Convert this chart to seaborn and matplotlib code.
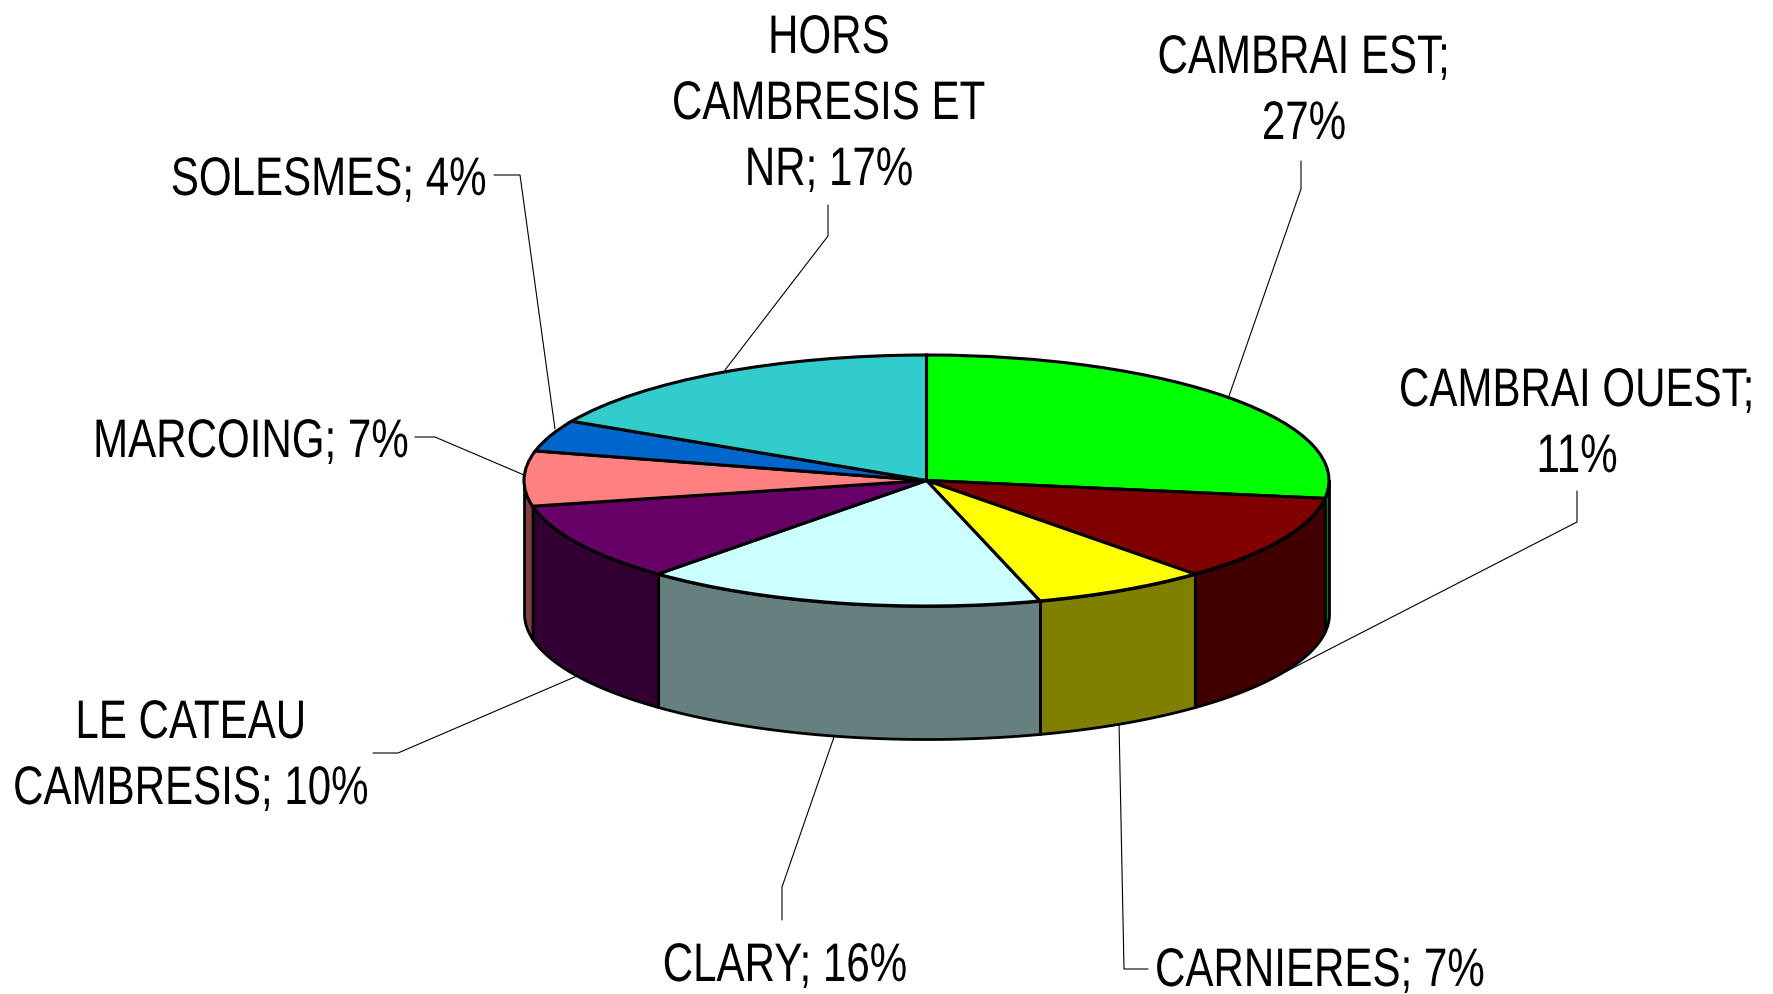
"""
Camembert 3D : répartition par secteur (Cambrésis).
"""

import numpy as np
import matplotlib
matplotlib.use('Agg')
import matplotlib.pyplot as plt
import matplotlib.patheffects as pe
from matplotlib.transforms import Affine2D
import seaborn as sns

# Data
labels = ['CAMBRAI EST;\n27%', 'CAMBRAI OUEST;\n11%', 'CARNIERES; 7%', 'CLARY; 16%',
          'LE CATEAU\nCAMBRESIS; 10%', 'MARCOING; 7%', 'SOLESMES; 4%',
          'HORS\nCAMBRESIS ET\nNR; 17%']
values = [27, 11, 7, 16, 10, 7, 4, 17]
top_colors = ['#00FF00', '#800000', '#FFFF00', '#CCFFFF',
              '#660066', '#FF8080', '#0066CC', '#33CCCC']

# Label centres and leader lines, in pixels from the top left of the image
label_xy = [(1304, 87), (1577, 420), (1320, 967), (785, 962),
            (191, 752), (251, 438), (329, 176), (829, 100)]
leaders = [[(1301, 162), (1301, 190), (1229, 397)],
           [(1577, 492), (1577, 523), (1287, 672)],
           [(1148, 970), (1124, 970), (1119, 723)],
           [(782, 921), (782, 888), (834, 738)],
           [(373, 754), (398, 754), (577, 677)],
           [(415, 438), (435, 438), (524, 476)],
           [(494, 176), (520, 176), (555, 430)],
           [(828, 206), (828, 237), (725, 371)]]

W, H = 1773, 995
CX, CY, RX, RY, DEPTH = 926.5, 481.5, 402.5, 125.5, 133


class Tall(pe.AbstractPathEffect):
    """Stretch text upward from its baseline (no narrow font installed)."""

    def __init__(self, factor):
        super().__init__()
        self.factor = factor

    def draw_path(self, renderer, gc, tpath, affine, rgbFace=None):
        renderer.draw_path(gc, tpath, Affine2D().scale(1, self.factor) + affine, rgbFace)


sns.set_style('white')
plt.rcParams['font.family'] = ['Liberation Sans', 'DejaVu Sans']
palette = sns.color_palette(top_colors)

fig = plt.figure(figsize=(W / 100, H / 100), dpi=100)
ax = fig.add_axes([0, 0, 1, 1])

# Top face
ax.pie(values, colors=palette, startangle=90, counterclock=False,
       wedgeprops={'edgecolor': 'black', 'linewidth': 2.2})

# The pie forces an equal aspect: flatten it into an ellipse
ax.set_aspect('auto')
ax.set_xlim(-CX / RX, (W - CX) / RX)
ax.set_ylim((CY - H) / RY, CY / RY)
ax.set_axis_off()

# Side wall: only the front half of each slice shows
depth = DEPTH / RY
edges = 90 - np.cumsum([0] + values) / sum(values) * 360
for start, end, col in zip(edges[:-1], edges[1:], palette):
    # bring the slice into the range that runs from 0 to -180 degrees
    for turn in (0, 360):
        a0, a1 = min(start + turn, 0), max(end + turn, -180)
        if a0 > a1:
            theta = np.radians(np.linspace(a0, a1, 80))
            x, y = np.cos(theta), np.sin(theta)
            ax.fill_between(x, y, y - depth, facecolor=[c / 2 for c in col],
                            edgecolor='black', linewidth=2.0, zorder=0.5)

# Labels and leader lines
to_pixels = Affine2D().scale(1, -1).translate(0, H)
for line in leaders:
    xs, ys = zip(*line)
    ax.plot(xs, ys, color='black', linewidth=0.8, transform=to_pixels, zorder=0.2,
            clip_on=False)

for text, (x, y) in zip(labels, label_xy):
    ax.text(x, y + 9, text, transform=to_pixels, fontsize=30.3, color='black',
            ha='center', va='center', linespacing=1.84,
            path_effects=[Tall(1.29)])

plt.savefig('out.png', dpi=100)
